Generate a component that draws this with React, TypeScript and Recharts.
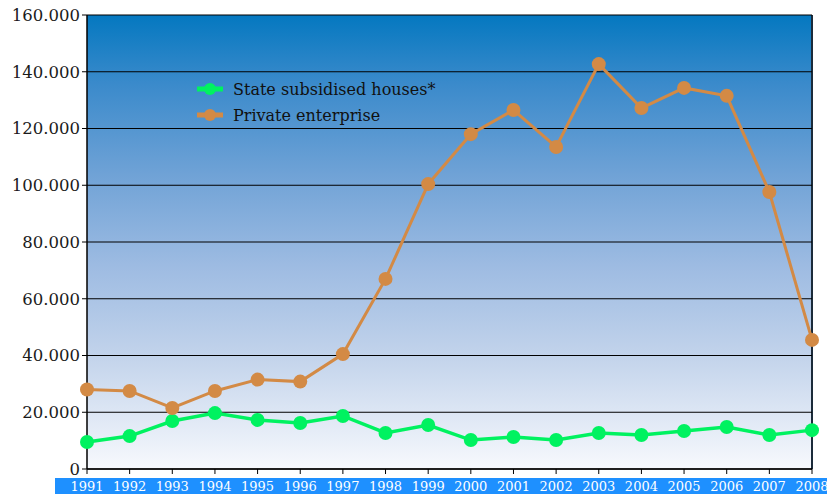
import { LineChart, Line, XAxis, YAxis, CartesianGrid } from "recharts"

const years = ["1991", "1992", "1993", "1994", "1995", "1996", "1997", "1998", "1999", "2000", "2001", "2002", "2003", "2004", "2005", "2006", "2007", "2008"]
const stateSubsidised = [9500, 11600, 16900, 19700, 17300, 16200, 18700, 12700, 15500, 10200, 11300, 10200, 12700, 12000, 13400, 14800, 12000, 13700]
const privateEnterprise = [28000, 27500, 21500, 27500, 31500, 30800, 40500, 67000, 100400, 118000, 126500, 113500, 142700, 127200, 134300, 131500, 97600, 45500]
const yTicks = [0, 20000, 40000, 60000, 80000, 100000, 120000, 140000, 160000]

const GREEN = "#00f260"
const ORANGE = "#d38a45"
const SERIF = "'DejaVu Serif', serif"

const data = years.map((y, i) => ({ year: y, state: stateSubsidised[i], priv: privateEnterprise[i] }))

const fmt = (v: number) => (v === 0 ? "0" : v.toLocaleString("de-DE"))

const legendItems = [
  { label: "State subsidised houses*", color: GREEN },
  { label: "Private enterprise", color: ORANGE },
]

function LegendBox() {
  return (
    <div style={{ position: "absolute", left: 196, top: 76, fontFamily: SERIF, fontSize: 16, color: "#111" }}>
      {legendItems.map((it) => (
        <div key={it.label} style={{ display: "flex", alignItems: "center", height: 26 }}>
          <svg width={28} height={14} style={{ marginRight: 9 }}>
            <line x1={1} y1={7} x2={27} y2={7} stroke={it.color} strokeWidth={5} />
            <circle cx={14} cy={7} r={6} fill={it.color} />
          </svg>
          <span>{it.label}</span>
        </div>
      ))}
    </div>
  )
}

export default function App() {
  return (
    <div style={{ position: "fixed", left: 0, top: 0, width: 827, height: 494, background: "#fff" }}>
      <div style={{
        position: "absolute", left: 87, top: 15, width: 724, height: 454,
        background: "linear-gradient(to bottom, #0478c0 0%, #3a8acb 15%, #6fa2d6 35%, #9dbbe2 55%, #c2d3eb 75%, #f7f9fd 100%)",
        borderRight: "2px solid #1b2b3a",
      }} />
      <div style={{ position: "absolute", left: 55, top: 478, width: 772, height: 16, background: "#1e90ff" }} />
      <div style={{ position: "absolute", left: 0, top: 0 }}>
        <LineChart width={827} height={494} data={data} margin={{ top: 15, right: 15, bottom: 0, left: 0 }}>
          <CartesianGrid vertical={false} stroke="#000" strokeWidth={1.2} horizontalValues={yTicks} />
          <XAxis dataKey="year" height={25} interval={0} axisLine={{ stroke: "#000", strokeWidth: 1.5 }}
            tickLine={{ stroke: "#000" }} tickSize={5}
            tick={{ fill: "#fff", fontFamily: SERIF, fontSize: 13, dy: 6 }} />
          <YAxis domain={[0, 160000]} ticks={yTicks} width={87} tickFormatter={fmt} interval={0}
            axisLine={{ stroke: "#000", strokeWidth: 1.5 }} tickLine={{ stroke: "#000" }} tickSize={5}
            tick={{ fill: "#1a1a1a", fontFamily: SERIF, fontSize: 16.5 }} />
          <Line dataKey="state" stroke={GREEN} strokeWidth={3.5} isAnimationActive={false}
            dot={{ r: 7, fill: GREEN, stroke: "none" }} activeDot={false} />
          <Line dataKey="priv" stroke={ORANGE} strokeWidth={3} isAnimationActive={false}
            dot={{ r: 7, fill: ORANGE, stroke: "none" }} activeDot={false} />
        </LineChart>
      </div>
      <LegendBox />
    </div>
  )
}
